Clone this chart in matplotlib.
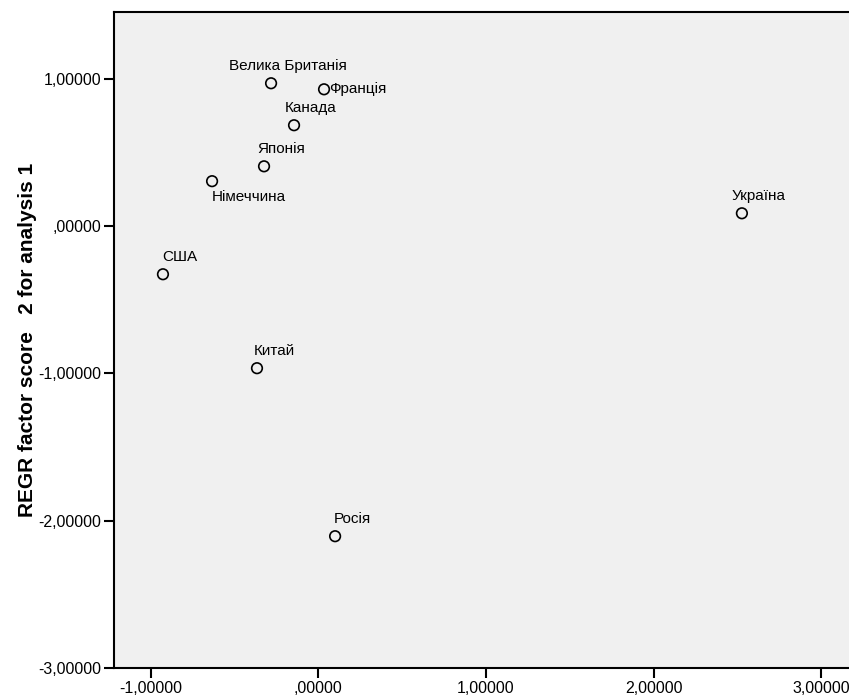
import matplotlib
matplotlib.use('Agg')
import matplotlib.pyplot as plt
from matplotlib.ticker import FuncFormatter

countries = ['Велика Британія', 'Франція', 'Канада', 'Японія', 'Німеччина',
             'США', 'Китай', 'Росія', 'Україна']
factor1 = [-0.282, 0.034, -0.145, -0.324, -0.634, -0.927, -0.366, 0.100, 2.527]
factor2 = [0.971, 0.930, 0.686, 0.407, 0.306, -0.326, -0.964, -2.105, 0.088]

# label offsets in pixels (dx, dy, ha)
offsets = {'Франція': (5, 0, 'left'), 'Німеччина': (37, -16, 'center')}

plt.rcParams['font.family'] = ['Liberation Sans', 'DejaVu Sans']

fig = plt.figure(figsize=(8.49, 6.97), dpi=100)
ax = fig.add_axes([0.1337, 0.0416, 0.8663, 0.9412])
ax.set_facecolor('#f0f0f0')

ax.scatter(factor1, factor2, s=58, facecolors='none', edgecolors='black',
           linewidths=1.2, zorder=3)

for name, x, y in zip(countries, factor1, factor2):
    dx, dy, ha = offsets.get(name, (17, 17, 'center'))
    ax.annotate(name, (x, y), xytext=(dx, dy), textcoords='offset pixels',
                ha=ha, va='center', fontsize=11)

ax.set_xlim(-1.222, 3.166)
ax.set_ylim(-3.0, 1.455)
ax.set_xticks([-1, 0, 1, 2, 3])
ax.set_yticks([-3, -2, -1, 0, 1])


def fmt(v, pos):
    s = f'{v:.5f}'.replace('.', ',')
    if s.startswith('0,'):
        s = s[1:]
    if s.startswith('-0,'):
        s = s[2:]
    return s


ax.xaxis.set_major_formatter(FuncFormatter(fmt))
ax.yaxis.set_major_formatter(FuncFormatter(fmt))
ax.tick_params(direction='out', length=7, width=1.5, labelsize=11.5, pad=2)

for side in ['left', 'bottom', 'top', 'right']:
    ax.spines[side].set_linewidth(1.5)
ax.spines['right'].set_visible(False)

ax.set_ylabel('REGR factor score   2 for analysis 1', fontsize=15,
              fontweight='bold', labelpad=1)

fig.savefig('out.png', dpi=100)
